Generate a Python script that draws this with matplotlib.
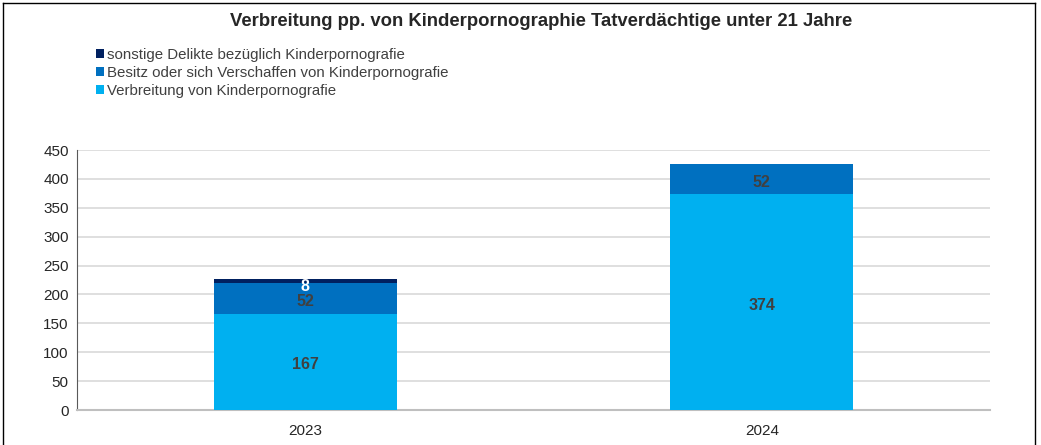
import matplotlib
matplotlib.use("Agg")
import matplotlib.pyplot as plt
from matplotlib.patches import Patch
from matplotlib.lines import Line2D

plt.rcParams['font.family'] = ['Liberation Sans', 'DejaVu Sans']

years = ["2023", "2024"]
verbreitung = [167, 374]
besitz = [52, 52]
sonstige = [8, 0]
series_names = ["Verbreitung von Kinderpornografie",
                "Besitz oder sich Verschaffen von Kinderpornografie",
                "sonstige Delikte bezüglich Kinderpornografie"]
colors = ["#00B0F0", "#0070C0", "#002060"]
yticks = [0, 50, 100, 150, 200, 250, 300, 350, 400, 450]

fig = plt.figure(figsize=(10.41, 4.45), dpi=100)
ax = fig.add_axes([77/1041, 35/445, 913/1041, 260/445])

x = list(range(len(years)))
w = 0.4
ax.bar(x, verbreitung, w, color=colors[0], zorder=3)
ax.bar(x, besitz, w, bottom=verbreitung, color=colors[1], zorder=3)
bottom3 = [a + b for a, b in zip(verbreitung, besitz)]
ax.bar(x, sonstige, w, bottom=bottom3, color=colors[2], zorder=3)

lab_kw = dict(ha='center', va='center_baseline', fontsize=11.5, fontweight='bold', zorder=4)
for i in x:
    ax.text(i, verbreitung[i] / 2 - 3, str(verbreitung[i]), color='#404040', **lab_kw)
    ax.text(i, verbreitung[i] + besitz[i] / 2 - 3, str(besitz[i]), color='#404040', **lab_kw)
    if sonstige[i] > 0:
        ax.text(i, bottom3[i] + sonstige[i] / 2 - 6, str(sonstige[i]), color='white', **lab_kw)

ax.set_xlim(-0.5, 1.5)
ax.set_ylim(0, 450)
ax.set_yticks(yticks)
ax.set_xticks(x)
ax.set_xticklabels(years)
ax.yaxis.grid(True, color='#D9D9D9', linewidth=1.2, zorder=0)
ax.set_axisbelow(True)
for s in ['top', 'right']:
    ax.spines[s].set_visible(False)
ax.spines['left'].set_color('#595959')
ax.spines['left'].set_linewidth(0.8)
ax.spines['bottom'].set_color('#BFBFBF')
ax.spines['bottom'].set_linewidth(1.5)
ax.tick_params(axis='both', length=0, labelsize=11, colors='#262626', pad=6)
ax.tick_params(axis='x', pad=10)

fig.text(541/1041, 1 - 21/445, "Verbreitung pp. von Kinderpornographie Tatverdächtige unter 21 Jahre",
         ha='center', va='center', fontsize=13.3, fontweight='bold', color='#262626')

handles = [Patch(facecolor=colors[2]), Patch(facecolor=colors[1]), Patch(facecolor=colors[0])]
labels = [series_names[2], series_names[1], series_names[0]]
fig.legend(handles, labels, loc='upper left', bbox_to_anchor=(96/1041, 1 - 48/445),
           frameon=False, fontsize=10.8, handlelength=0.55, handleheight=0.55,
           handletextpad=0.2, labelspacing=0.27, borderaxespad=0, borderpad=0,
           labelcolor='#404040')

# figure border
fig.add_artist(Line2D([3/1041, 3/1041], [0, 1 - 3/445], transform=fig.transFigure, color='black', lw=1))
fig.add_artist(Line2D([3/1041, 1035/1041], [1 - 3/445, 1 - 3/445], transform=fig.transFigure, color='black', lw=1))
fig.add_artist(Line2D([1035/1041, 1035/1041], [0, 1 - 3/445], transform=fig.transFigure, color='black', lw=1))

fig.savefig("out.png", dpi=100)
